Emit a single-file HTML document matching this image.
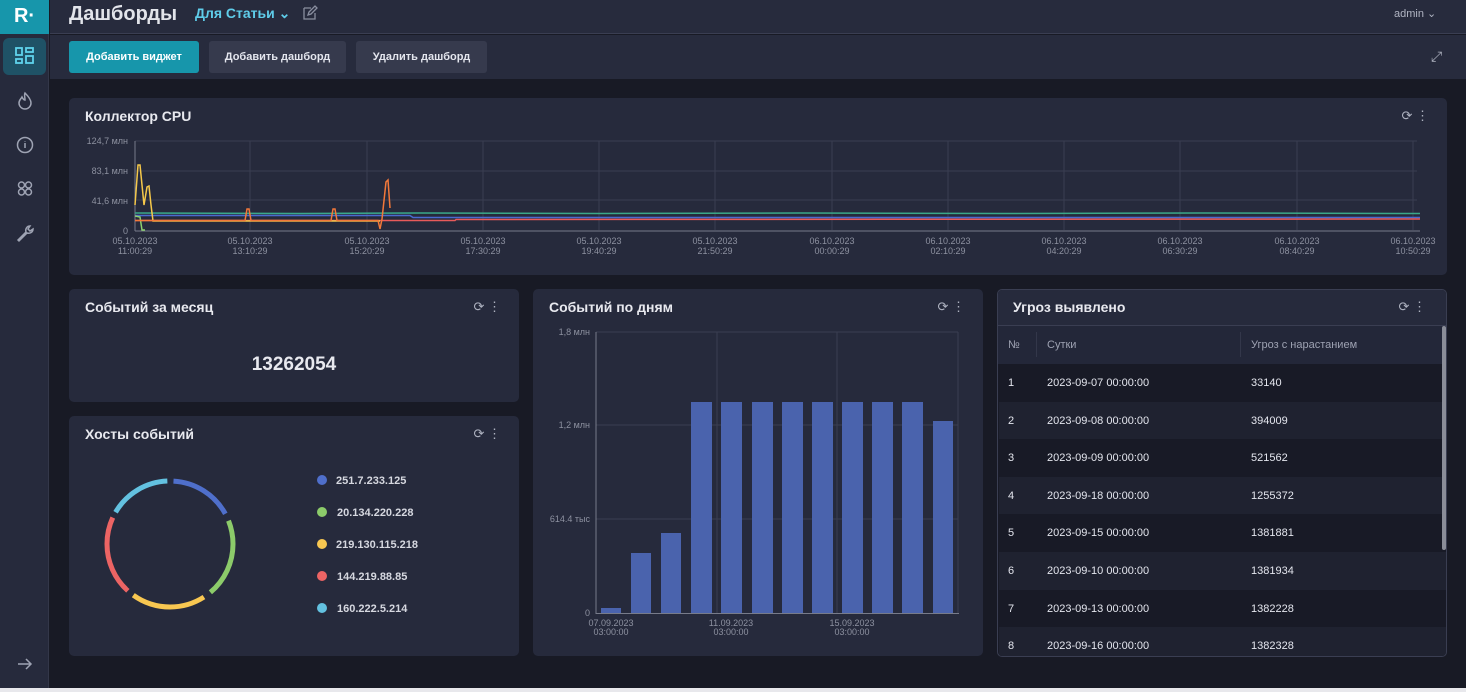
<!DOCTYPE html>
<html><head><meta charset="utf-8"><style>
*{margin:0;padding:0;box-sizing:border-box}
body{width:1466px;height:692px;background:#181a25;font-family:"Liberation Sans","Noto Sans CJK SC",sans-serif;position:relative;overflow:hidden;color:#e4e6ee}
.a{position:absolute}
.panel{position:absolute;background:#262a3c;border-radius:5px}
.title{position:absolute;left:16px;top:10px;font-size:14px;font-weight:bold;color:#e8e9ef}
.ico{position:absolute;right:18px;top:10px;color:#aeb2c0;font-size:13px}
.btn{position:absolute;top:41px;height:32px;border-radius:3px;background:#363a4d;color:#e4e6ee;font-size:11px;font-weight:bold;text-align:center;line-height:32px}
.tr{position:absolute;left:1px;width:1439px;height:37.6px;font-size:11px;color:#e4e6ee}
</style></head><body>
<div class="a" style="left:0;top:0;width:49px;height:692px;background:#262a3c;border-right:1px solid #333749"></div>
<div class="a" style="left:0;top:0;width:49px;height:34px;background:#1796ab;color:#fff;font-weight:bold;font-size:20px;text-align:center;line-height:32px">R·</div>
<div class="a" style="left:3px;top:38px;width:43px;height:37px;background:#1f5266;border-radius:6px"></div>
<svg class="a" style="left:0;top:0" width="49" height="692">
<g fill="none" stroke="#5fd3ec" stroke-width="1.8"><rect x="16" y="48" width="6" height="7"/><rect x="26" y="48" width="7" height="4"/><rect x="16" y="59" width="6" height="4"/><rect x="26" y="56" width="7" height="7"/></g>
<g fill="none" stroke="#9ea3b3" stroke-width="1.5">
<path d="M25 93c4 4 6 7 6 10a6 6 0 0 1-12 0c0-3 2-4 3-6 1 2 2 3 3 3 0-3-1-5 0-7z"/>
<circle cx="25" cy="145" r="7.5"/><path d="M25 143v5M25 141v0.5"/>
<circle cx="21.5" cy="185" r="3"/><circle cx="28.5" cy="185" r="3"/><circle cx="21.5" cy="192" r="3"/><circle cx="28.5" cy="192" r="3"/>
<path d="M18 240l8-8c-1-3 1-6 4-6l-2 3 2 2 3-2c0 3-3 5-6 4l-8 8z"/>
<path d="M18 664h13M26 659l5 5-5 5"/></g></svg>
<div class="a" style="left:50px;top:0;width:1416px;height:34px;background:#272b3d;border-bottom:1px solid #3a3e52"></div>
<div class="a" style="left:69px;top:3px;font-size:20px;font-weight:bold;color:#e2e4ea">Дашборды</div>
<div class="a" style="left:195px;top:5px;font-size:14px;font-weight:bold;color:#5fcdea">Для Статьи ⌄</div>
<svg class="a" style="left:302px;top:5px" width="16" height="16"><path d="M2 3h7M2 3v11h11V8M6 10l1-3 6-6 2 2-6 6z" fill="none" stroke="#8a8fa0" stroke-width="1.3"/></svg>
<div class="a" style="left:1394px;top:7px;font-size:11px;color:#b0b4c2">admin ⌄</div>
<div class="a" style="left:50px;top:35px;width:1416px;height:44px;background:#272b3d"></div>
<div class="btn" style="left:69px;width:130px;background:#1796ab;color:#fff">Добавить виджет</div>
<div class="btn" style="left:209px;width:137px">Добавить дашборд</div>
<div class="btn" style="left:356px;width:131px">Удалить дашборд</div>
<div class="a" style="left:1431px;top:48px;font-size:14px;color:#aeb2c0">⤢</div>
<div class="panel" style="left:69px;top:98px;width:1378px;height:177px"><div class="title">Коллектор CPU</div><div class="ico">⟳ ⋮</div></div>
<svg class="a" style="left:0;top:0" width="1466" height="280" font-family="Liberation Sans" font-size="9" fill="#8d91a0">
<g stroke="#3a3e52" stroke-width="1">
<line x1="135" y1="141" x2="1417" y2="141"/><line x1="135" y1="171" x2="1417" y2="171"/><line x1="135" y1="200" x2="1417" y2="200"/>
<line x1="250" y1="141" x2="250" y2="230"/><line x1="367" y1="141" x2="367" y2="230"/><line x1="483" y1="141" x2="483" y2="230"/><line x1="599" y1="141" x2="599" y2="230"/><line x1="715" y1="141" x2="715" y2="230"/><line x1="832" y1="141" x2="832" y2="230"/><line x1="948" y1="141" x2="948" y2="230"/><line x1="1064" y1="141" x2="1064" y2="230"/><line x1="1180" y1="141" x2="1180" y2="230"/><line x1="1297" y1="141" x2="1297" y2="230"/><line x1="1413" y1="141" x2="1413" y2="230"/>
</g>
<line x1="135" y1="141" x2="135" y2="231" stroke="#777b8a"/><line x1="135" y1="231" x2="1420" y2="231" stroke="#777b8a"/>
<g text-anchor="end"><text x="128" y="144">124,7 млн</text><text x="128" y="174">83,1 млн</text><text x="128" y="204">41,6 млн</text><text x="128" y="234">0</text></g>
<g text-anchor="middle">
<text x="135" y="244">05.10.2023</text><text x="135" y="254">11:00:29</text>
<text x="250" y="244">05.10.2023</text><text x="250" y="254">13:10:29</text>
<text x="367" y="244">05.10.2023</text><text x="367" y="254">15:20:29</text>
<text x="483" y="244">05.10.2023</text><text x="483" y="254">17:30:29</text>
<text x="599" y="244">05.10.2023</text><text x="599" y="254">19:40:29</text>
<text x="715" y="244">05.10.2023</text><text x="715" y="254">21:50:29</text>
<text x="832" y="244">06.10.2023</text><text x="832" y="254">00:00:29</text>
<text x="948" y="244">06.10.2023</text><text x="948" y="254">02:10:29</text>
<text x="1064" y="244">06.10.2023</text><text x="1064" y="254">04:20:29</text>
<text x="1180" y="244">06.10.2023</text><text x="1180" y="254">06:30:29</text>
<text x="1297" y="244">06.10.2023</text><text x="1297" y="254">08:40:29</text>
<text x="1413" y="244">06.10.2023</text><text x="1413" y="254">10:50:29</text></g>
<g fill="none" stroke-width="1.5">
<path d="M135 213L300 213.5L420 213L600 213.5L800 213L1000 213.5L1200 213L1420 213.5" stroke="#3aa88a"/>
<path d="M135 215.5L410 215.5L413 217.5L1420 217.5" stroke="#4a6ad0"/>
<path d="M135 220.5L455 220.5L456 219.5L1420 219" stroke="#e85a5a"/>
<path d="M135 216L140 217L142 230L145 230" stroke="#8cd070"/>
<path d="M135 205L138 165L140 165L144 205L147 187L149 186L151 205L153 221L240 221L380 221" stroke="#f5c84a"/>
<path d="M135 220.5L245 220.5L247 209L249 209L251 220.5L331 220.5L333 209L335 209L337 220.5L378 220.5L380 229L382 219L386 182L388 180L390 208" stroke="#f2783a"/>
</g></svg>
<div class="panel" style="left:69px;top:289px;width:450px;height:113px"><div class="title">Событий за месяц</div><div class="ico">⟳ ⋮</div>
<div class="a" style="left:0;width:450px;top:65px;text-align:center;font-size:19px;font-weight:bold;color:#e8e9ef">13262054</div></div>
<div class="panel" style="left:69px;top:416px;width:450px;height:240px"><div class="title">Хосты событий</div><div class="ico">⟳ ⋮</div></div>
<svg class="a" style="left:0;top:0" width="530" height="660" font-family="Liberation Sans" font-size="11" font-weight="bold" fill="#d6d8e0">
<g fill="none" stroke-width="5" transform="rotate(-90 170 544)">
<circle cx="170" cy="544" r="63" stroke="#4f6fcb" stroke-dasharray="64 332" stroke-dashoffset="-3.5"/>
<circle cx="170" cy="544" r="63" stroke="#8ccb6a" stroke-dasharray="79 317" stroke-dashoffset="-75"/>
<circle cx="170" cy="544" r="63" stroke="#f8c751" stroke-dasharray="75 321" stroke-dashoffset="-162"/>
<circle cx="170" cy="544" r="63" stroke="#ec6464" stroke-dasharray="80 316" stroke-dashoffset="-244"/>
<circle cx="170" cy="544" r="63" stroke="#63c1e0" stroke-dasharray="63 333" stroke-dashoffset="-330"/>
</g>
<circle cx="322" cy="480" r="5" fill="#4f6fcb"/><text x="336" y="484">251.7.233.125</text>
<circle cx="322" cy="512" r="5" fill="#8ccb6a"/><text x="337" y="516">20.134.220.228</text>
<circle cx="322" cy="544" r="5" fill="#f8c751"/><text x="336" y="548">219.130.115.218</text>
<circle cx="322" cy="576" r="5" fill="#ec6464"/><text x="337" y="580">144.219.88.85</text>
<circle cx="322" cy="608" r="5" fill="#63c1e0"/><text x="337" y="612">160.222.5.214</text>
</svg>
<div class="panel" style="left:533px;top:289px;width:450px;height:367px"><div class="title">Событий по дням</div><div class="ico">⟳ ⋮</div></div>
<svg class="a" style="left:0;top:0" width="1000" height="660" font-family="Liberation Sans" font-size="9" fill="#8d91a0">
<g stroke="#3a3e52"><line x1="596" y1="332" x2="958" y2="332"/><line x1="596" y1="425" x2="958" y2="425"/><line x1="596" y1="519" x2="958" y2="519"/><line x1="717" y1="332" x2="717" y2="613"/><line x1="837" y1="332" x2="837" y2="613"/><line x1="958" y1="332" x2="958" y2="613"/></g>
<line x1="596" y1="332" x2="596" y2="614" stroke="#777b8a"/><line x1="596" y1="613.5" x2="959" y2="613.5" stroke="#777b8a"/>
<g text-anchor="end"><text x="590" y="335">1,8 млн</text><text x="590" y="428">1,2 млн</text><text x="590" y="522">614.4 тыс</text><text x="590" y="616">0</text></g>
<g text-anchor="middle"><text x="611" y="626">07.09.2023</text><text x="611" y="635">03:00:00</text><text x="731" y="626">11.09.2023</text><text x="731" y="635">03:00:00</text><text x="852" y="626">15.09.2023</text><text x="852" y="635">03:00:00</text></g>
<g fill="#4a63ad">
<rect x="601" y="608" width="20" height="5"/><rect x="631" y="553" width="20" height="60"/><rect x="661" y="533" width="20" height="80"/>
<rect x="691" y="402" width="21" height="211"/><rect x="721" y="402" width="21" height="211"/><rect x="752" y="402" width="21" height="211"/><rect x="782" y="402" width="21" height="211"/><rect x="812" y="402" width="21" height="211"/><rect x="842" y="402" width="21" height="211"/><rect x="872" y="402" width="21" height="211"/><rect x="902" y="402" width="21" height="211"/><rect x="933" y="421" width="20" height="192"/>
</g></svg>
<div class="panel" style="left:997px;top:289px;width:450px;height:368px;border:1px solid #3a3e52;overflow:hidden;background:#181a26">
<div class="a" style="left:0;top:0;width:450px;height:36px;background:#262a3c;border-bottom:1px solid #3a3e52"></div>
<div class="title" style="left:15px;top:9px">Угроз выявлено</div><div class="ico" style="top:9px;right:20px">⟳ ⋮</div>
<div class="a" style="left:0;top:36px;width:450px;height:38px;background:#232739;font-size:11px;color:#9ea2b2">
<span class="a" style="left:10px;top:13px">№</span><span class="a" style="left:38px;top:6px;width:1px;height:25px;background:#33374a"></span>
<span class="a" style="left:49px;top:13px">Сутки</span><span class="a" style="left:242px;top:6px;width:1px;height:25px;background:#33374a"></span>
<span class="a" style="left:253px;top:13px">Угроз с нарастанием</span></div>
<div class="tr" style="top:74px;background:#181a26"><span class="a" style="left:9px;top:13px">1</span><span class="a" style="left:48px;top:13px">2023-09-07 00:00:00</span><span class="a" style="left:252px;top:13px">33140</span></div>
<div class="tr" style="top:111.6px;background:#1f2230"><span class="a" style="left:9px;top:13px">2</span><span class="a" style="left:48px;top:13px">2023-09-08 00:00:00</span><span class="a" style="left:252px;top:13px">394009</span></div>
<div class="tr" style="top:149.2px;background:#181a26"><span class="a" style="left:9px;top:13px">3</span><span class="a" style="left:48px;top:13px">2023-09-09 00:00:00</span><span class="a" style="left:252px;top:13px">521562</span></div>
<div class="tr" style="top:186.8px;background:#1f2230"><span class="a" style="left:9px;top:13px">4</span><span class="a" style="left:48px;top:13px">2023-09-18 00:00:00</span><span class="a" style="left:252px;top:13px">1255372</span></div>
<div class="tr" style="top:224.4px;background:#181a26"><span class="a" style="left:9px;top:13px">5</span><span class="a" style="left:48px;top:13px">2023-09-15 00:00:00</span><span class="a" style="left:252px;top:13px">1381881</span></div>
<div class="tr" style="top:262px;background:#1f2230"><span class="a" style="left:9px;top:13px">6</span><span class="a" style="left:48px;top:13px">2023-09-10 00:00:00</span><span class="a" style="left:252px;top:13px">1381934</span></div>
<div class="tr" style="top:299.6px;background:#181a26"><span class="a" style="left:9px;top:13px">7</span><span class="a" style="left:48px;top:13px">2023-09-13 00:00:00</span><span class="a" style="left:252px;top:13px">1382228</span></div>
<div class="tr" style="top:337.2px;background:#1f2230"><span class="a" style="left:9px;top:13px">8</span><span class="a" style="left:48px;top:13px">2023-09-16 00:00:00</span><span class="a" style="left:252px;top:13px">1382328</span></div>
<div class="a" style="left:444px;top:36px;width:4px;height:224px;background:#8a8d98;border-radius:2px"></div>
</div>
<div class="a" style="left:0;top:688px;width:1466px;height:4px;background:#e8e8ec"></div>
</body></html>
